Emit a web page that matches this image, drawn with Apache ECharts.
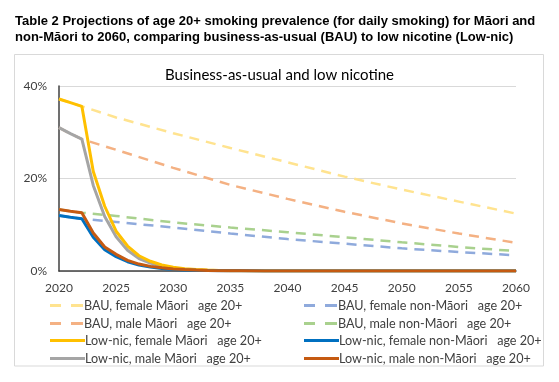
<!DOCTYPE html>
<html><head><meta charset="utf-8">
<script src="https://cdn.jsdelivr.net/npm/echarts@6/dist/echarts.min.js"></script>
<style>html,body{margin:0;padding:0;background:#fff}#c{width:559px;height:382px}</style>
</head><body><div id="c"></div>
<script>
const titleLines = ["Table 2 Projections of age 20+ smoking prevalence (for daily smoking) for Māori and",
  "non-Māori to 2060, comparing business-as-usual (BAU) to low nicotine (Low-nic)"];
const chartTitle = "Business-as-usual and low nicotine";

const bauYears = [2020, 2021, 2022, 2025, 2030, 2035, 2040, 2045, 2050, 2055, 2060];
const bauFemaleMaori    = [37.2, 36.4, 35.6, 33.2, 29.8, 26.6, 23.5, 20.4, 17.6, 15.0, 12.4];
const bauMaleMaori      = [31.0, 29.7, 28.5, 26.2, 22.3, 18.6, 15.6, 12.8, 10.3, 8.1, 6.1];
const bauFemaleNonMaori = [12.0, 11.6, 11.3, 10.6, 9.4, 8.1, 6.9, 5.9, 4.9, 4.1, 3.4];
const bauMaleNonMaori   = [13.3, 12.9, 12.6, 11.9, 10.5, 9.4, 8.4, 7.3, 6.2, 5.2, 4.3];

const lowYears = [2020, 2021, 2022, 2023, 2024, 2025, 2026, 2027, 2028, 2029, 2030, 2031, 2032, 2033, 2034, 2035, 2036, 2038, 2040, 2045, 2050, 2055, 2060];
const lowFemaleMaori    = [37.2, 36.4, 35.6, 21.5, 14.0, 8.6, 5.4, 3.3, 2.1, 1.3, 0.8, 0.5, 0.3, 0.2, 0.12, 0.08, 0.05, 0.02, 0.01, 0, 0, 0, 0];
const lowMaleMaori      = [31.0, 29.7, 28.5, 18.5, 11.8, 7.4, 4.5, 2.7, 1.7, 1.0, 0.6, 0.4, 0.25, 0.15, 0.1, 0.06, 0.04, 0.02, 0.01, 0, 0, 0, 0];
const lowFemaleNonMaori = [12.0, 11.6, 11.3, 7.3, 4.6, 3.1, 2.0, 1.3, 0.85, 0.55, 0.35, 0.22, 0.14, 0.09, 0.06, 0.04, 0.03, 0.01, 0.01, 0, 0, 0, 0];
const lowMaleNonMaori   = [13.3, 12.9, 12.6, 8.2, 5.2, 3.6, 2.3, 1.5, 1.0, 0.7, 0.45, 0.3, 0.2, 0.13, 0.08, 0.05, 0.04, 0.02, 0.01, 0, 0, 0, 0];

const seriesNames = ["BAU, female Māori   age 20+", "BAU, female non-Māori   age 20+",
  "BAU, male Māori   age 20+", "BAU, male non-Māori   age 20+",
  "Low-nic, female Māori   age 20+", "Low-nic, female non-Māori   age 20+",
  "Low-nic, male Māori   age 20+", "Low-nic, male non-Māori   age 20+"];
const xTicks = [2020, 2060, 5];
const yTicks = [0, 40, 20];

const colors = ['#ffe38f', '#8faadc', '#f4b183', '#a9d18e', '#ffc000', '#0070c0', '#a5a5a5', '#c55a11'];

function pairs(xs, ys){ return xs.map((x,i)=>[x, ys[i]]); }
function dashed(i, xs, ys){
  return {name:seriesNames[i], type:'line', symbol:'none', data:pairs(xs, ys),
    lineStyle:{color:colors[i], width:2.5, type:[10,7]}, itemStyle:{color:colors[i]}};
}
function solid(i, xs, ys){
  return {name:seriesNames[i], type:'line', symbol:'none', data:pairs(xs, ys),
    lineStyle:{color:colors[i], width:3}, itemStyle:{color:colors[i]}};
}
const F = 'Lato, "Open Sans", sans-serif';
const dashIcon = 'path://M0,0h11v3h-11z M21,0h12v3h-12z';
const solidIcon = 'path://M0,0h35v3h-35z';
const rowTops = [294, 312, 329, 347];
const colLefts = [45, 299];
const legends = seriesNames.map((n, i) => ({
  left: colLefts[i % 2], top: rowTops[Math.floor(i / 2)],
  itemWidth: 35, itemHeight: 3, icon: i < 4 ? dashIcon : solidIcon,
  data: [n], selectedMode: false,
  textStyle: {color:'#404040', fontSize:12.6, fontFamily:F, padding:[0,0,0,-5]}
}));
const chart = echarts.init(document.getElementById('c'), null, {renderer:'canvas'});
chart.setOption({
  animation:false,
  textStyle:{fontFamily:F},
  graphic:[
    {type:'rect', shape:{x:14.5, y:54.5, width:529, height:311.5}, style:{fill:'#fff', stroke:'#d9d9d9', lineWidth:1}, z:-10},
    {type:'text', left:15, top:15, style:{text:titleLines[0], font:'bold 13px "Liberation Sans", Arial', fill:'#000'}},
    {type:'text', left:15, top:31, style:{text:titleLines[1], font:'bold 13px "Liberation Sans", Arial', fill:'#000'}}
  ],
  title:{text:chartTitle, left:'center', top:63, textStyle:{fontFamily:F, fontSize:15, fontWeight:'normal', color:'#000'}},
  grid:{left:59, right:43, top:86, bottom:111, containLabel:false},
  xAxis:{type:'value', min:xTicks[0], max:xTicks[1], interval:xTicks[2],
    axisLine:{show:true, lineStyle:{color:'#404040', width:1.5}}, axisTick:{show:false},
    splitLine:{show:false},
    axisLabel:{color:'#404040', fontSize:12, margin:11, fontFamily:F, formatter: v => String(v)}},
  yAxis:{type:'value', min:yTicks[0], max:yTicks[1], interval:yTicks[2],
    axisLine:{show:true, lineStyle:{color:'#404040', width:1.5}}, axisTick:{show:false},
    splitLine:{lineStyle:{color:'#d9d9d9'}},
    axisLabel:{color:'#404040', fontSize:12, formatter:'{value}%', margin:12, fontFamily:F}},
  legend: legends,
  series:[
    dashed(0, bauYears, bauFemaleMaori),
    dashed(1, bauYears, bauFemaleNonMaori),
    dashed(2, bauYears, bauMaleMaori),
    dashed(3, bauYears, bauMaleNonMaori),
    solid(6, lowYears, lowMaleMaori),
    solid(4, lowYears, lowFemaleMaori),
    solid(5, lowYears, lowFemaleNonMaori),
    solid(7, lowYears, lowMaleNonMaori)
  ]
});
</script></body></html>
